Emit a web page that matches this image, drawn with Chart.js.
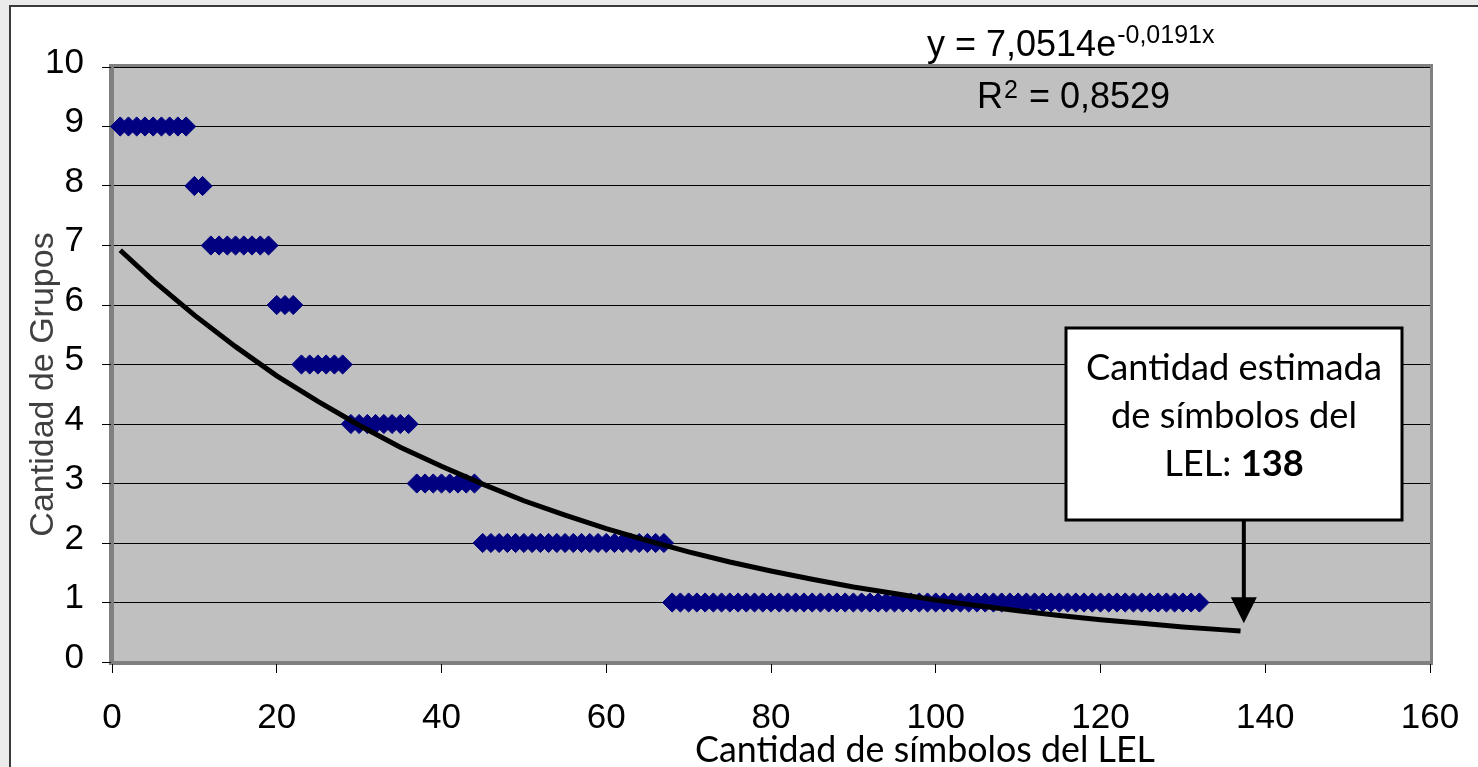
<!DOCTYPE html>
<html><head><meta charset="utf-8">
<script src="https://cdn.jsdelivr.net/npm/chart.js@4.4.1/dist/chart.umd.min.js"></script>
<style>html,body{margin:0;padding:0;background:#ebebeb;overflow:hidden}canvas{display:block}</style>
</head><body><canvas id="c" width="1478" height="767"></canvas>
<script>
// ---- data ----
const groupLevels = [9, 8, 7, 6, 5, 4, 3, 2, 1];          // "Cantidad de Grupos"
const groupCounts = [9, 2, 8, 3, 6, 8, 8, 23, 65];        // how many consecutive symbols sit at each level
const trendX = [1, 5, 10, 15, 20, 25, 30, 35, 40, 45, 50, 55, 60, 65, 70, 75, 80, 85, 90, 95, 100, 105, 110, 115, 120, 125, 130, 135, 137];
const trendY = [6.92, 6.41, 5.83, 5.30, 4.81, 4.38, 3.98, 3.61, 3.29, 2.99, 2.71, 2.47, 2.24, 2.04, 1.85, 1.68, 1.53, 1.39, 1.26, 1.15, 1.04, 0.95, 0.86, 0.78, 0.71, 0.65, 0.59, 0.54, 0.52];
const xTickValues = [0, 20, 40, 60, 80, 100, 120, 140, 160];
const yTickValues = [0, 1, 2, 3, 4, 5, 6, 7, 8, 9, 10];
const xTitle = 'Cantidad de símbolos del LEL';
const yTitle = 'Cantidad de Grupos';
const eqMain = 'y = 7,0514e';
const eqExp = '-0,0191x';
const r2Label = 'R';
const r2Sup = '2';
const r2Value = ' = 0,8529';
const boxLines = ['Cantidad estimada', 'de símbolos del'];
const boxLastPlain = 'LEL: ';
const boxLastBold = '138';
const arrowTarget = {x: 137.4, y: 0.65};

// build scatter points (rank along x, group level on y)
const scatterPts = [];
let rank = 0;
groupLevels.forEach((lvl, i) => {
  for (let k = 0; k < groupCounts[i]; k++) { rank++; scatterPts.push({x: rank, y: lvl}); }
});
const trendPts = trendX.map((x, i) => ({x, y: trendY[i]}));

const SANS = '"Liberation Sans", Arial, sans-serif';
const CAL = 'Lato, "Open Sans", sans-serif';

function fitSize(ctx, text, family, weight, target) {
  ctx.font = `${weight} 100px ${family}`;
  return 100 * target / ctx.measureText(text).width;
}

const decor = {
  id: 'decor',
  beforeDraw(chart) {
    const {ctx, chartArea: a} = chart;
    ctx.save();
    ctx.fillStyle = '#ebebeb'; ctx.fillRect(0, 0, 1478, 767);
    ctx.fillStyle = '#ffffff'; ctx.fillRect(10, 7, 1468, 760);
    ctx.fillStyle = '#3a3a3a'; ctx.fillRect(9, 5, 2, 762); ctx.fillRect(9, 5, 1469, 2);
    ctx.fillStyle = '#c0c0c0'; ctx.fillRect(a.left, a.top, a.right - a.left, a.bottom - a.top);
    ctx.strokeStyle = '#808080'; ctx.lineWidth = 3;
    ctx.strokeRect(a.left - 1.5, a.top - 1.5, a.right - a.left + 3, a.bottom - a.top + 3);
    ctx.restore();
  },
  afterDraw(chart) {
    const {ctx, chartArea: a, scales} = chart;
    const xs = scales.x, ys = scales.y;
    ctx.save();
    // y title
    ctx.save();
    ctx.translate(a.left - 59, (a.top + a.bottom) / 2 + 20);
    ctx.rotate(-Math.PI / 2);
    ctx.font = `34px ${SANS}`; ctx.fillStyle = '#404040';
    ctx.textAlign = 'center'; ctx.textBaseline = 'alphabetic';
    ctx.fillText(yTitle, 0, 0);
    ctx.restore();
    // x title
    let fs = fitSize(ctx, xTitle, CAL, 'normal', 460);
    ctx.font = `${fs}px ${CAL}`; ctx.fillStyle = '#000';
    ctx.textAlign = 'center'; ctx.textBaseline = 'alphabetic';
    ctx.fillText(xTitle, 925, 762);
    // equation
    ctx.textAlign = 'left';
    ctx.font = `36px ${SANS}`;
    ctx.fillText(eqMain, 927, 56);
    const w1 = ctx.measureText(eqMain).width;
    ctx.font = `25px ${SANS}`;
    ctx.fillText(eqExp, 927 + w1 + 1, 43);
    ctx.font = `36px ${SANS}`;
    ctx.fillText(r2Label, 977, 108);
    const wr = ctx.measureText(r2Label).width;
    ctx.font = `25px ${SANS}`;
    ctx.fillText(r2Sup, 977 + wr + 1, 98);
    const ws = ctx.measureText(r2Sup).width;
    ctx.font = `36px ${SANS}`;
    ctx.fillText(r2Value, 977 + wr + ws + 2, 108);
    // annotation box
    const bx = 1066, by = 328, bw = 336, bh = 192;
    ctx.fillStyle = '#fff'; ctx.fillRect(bx, by, bw, bh);
    ctx.strokeStyle = '#000'; ctx.lineWidth = 3; ctx.strokeRect(bx, by, bw, bh);
    const cx = bx + bw / 2;
    fs = fitSize(ctx, boxLines[0], CAL, 'normal', 296);
    ctx.fillStyle = '#000'; ctx.textAlign = 'center';
    ctx.font = `${fs}px ${CAL}`;
    ctx.fillText(boxLines[0], cx, 380);
    ctx.fillText(boxLines[1], cx, 428);
    const wp = ctx.measureText(boxLastPlain).width;
    ctx.font = `bold ${fs}px ${CAL}`;
    const wb = ctx.measureText(boxLastBold).width;
    ctx.textAlign = 'left';
    ctx.font = `${fs}px ${CAL}`;
    ctx.fillText(boxLastPlain, cx - (wp + wb) / 2, 476);
    ctx.font = `bold ${fs}px ${CAL}`;
    ctx.fillText(boxLastBold, cx - (wp + wb) / 2 + wp, 476);
    // arrow
    const ax = xs.getPixelForValue(arrowTarget.x), ay = ys.getPixelForValue(arrowTarget.y);
    ctx.strokeStyle = '#000'; ctx.lineWidth = 4;
    ctx.beginPath(); ctx.moveTo(ax, by + bh); ctx.lineTo(ax, ay - 20); ctx.stroke();
    ctx.fillStyle = '#000';
    ctx.beginPath(); ctx.moveTo(ax - 13, ay - 26); ctx.lineTo(ax + 13, ay - 26); ctx.lineTo(ax, ay); ctx.closePath(); ctx.fill();
    ctx.restore();
  }
};

new Chart(document.getElementById('c'), {
  type: 'scatter',
  data: {
    datasets: [
      {
        label: 'Tendencia',
        data: trendPts,
        showLine: true,
        borderColor: '#000',
        borderWidth: 5,
        pointRadius: 0,
        tension: 0,
        order: 0,
        clip: false
      },
      {
        label: 'Grupos',
        data: scatterPts,
        pointStyle: 'rectRot',
        pointRadius: 9.6,
        pointBackgroundColor: '#000080',
        pointBorderColor: '#000080',
        pointBorderWidth: 1,
        order: 1,
        clip: false
      }
    ]
  },
  options: {
    responsive: false,
    devicePixelRatio: 1,
    animation: false,
    layout: {padding: {left: 0, top: 67, right: 48, bottom: 0}},
    plugins: {legend: {display: false}, tooltip: {enabled: false}},
    scales: {
      x: {
        type: 'linear', min: 0, max: 160,
        afterBuildTicks: s => { s.ticks = xTickValues.map(v => ({value: v})); },
        afterFit: s => { s.height = 105; s.paddingLeft = 0; s.paddingRight = 0; },
        ticks: {font: {family: SANS, size: 35}, color: '#000', padding: 24, maxRotation: 0, autoSkip: false},
        grid: {drawOnChartArea: false, drawTicks: true, tickLength: 11, color: '#000', lineWidth: 1},
        border: {color: '#808080', width: 3}
      },
      y: {
        type: 'linear', min: 0, max: 10,
        afterBuildTicks: s => { s.ticks = yTickValues.map(v => ({value: v})); },
        afterFit: s => { s.width = 112; s.paddingTop = 0; s.paddingBottom = 0; },
        ticks: {font: {family: SANS, size: 35}, color: '#000', padding: 18, labelOffset: -4, autoSkip: false},
        grid: {color: '#000', lineWidth: 1, drawTicks: true, tickLength: 10},
        border: {color: '#808080', width: 3}
      }
    }
  },
  plugins: [decor]
});
</script>
</body></html>
